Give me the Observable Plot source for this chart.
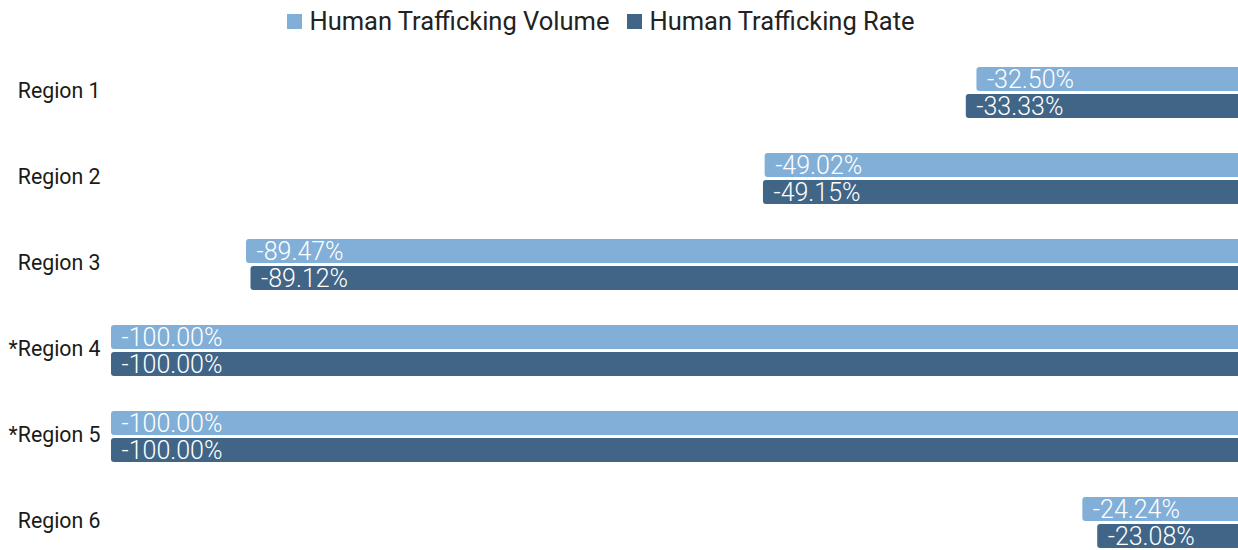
<!DOCTYPE html>
<html>
<head>
<meta charset="utf-8">
<script src="https://cdn.jsdelivr.net/npm/d3@7"></script>
<script src="https://cdn.jsdelivr.net/npm/@observablehq/plot@0.6"></script>
<style>
  html, body { margin: 0; padding: 0; background: #fff; overflow: hidden; }
  body { width: 1238px; height: 550px; font-family: Roboto, "Noto Sans", sans-serif; }
  #legend { height: 42px; display: flex; justify-content: center; align-items: center; gap: 18px; font-size: 25.5px; color: #222; padding-right: 36px; box-sizing: border-box; }
  #legend .item { display: flex; align-items: center; gap: 7px; }
  #legend .sw { width: 15px; height: 15px; display: inline-block; }
  #chart svg { display: block; }
</style>
</head>
<body>
<div id="legend"></div>
<div id="chart"></div>
<script>
const regions = ["Region 1", "Region 2", "Region 3", "*Region 4", "*Region 5", "Region 6"];
const seriesNames = ["Human Trafficking Volume", "Human Trafficking Rate"];
const volumeChange = [-32.50, -49.02, -89.47, -100.00, -100.00, -24.24];
const rateChange = [-33.33, -49.15, -89.12, -100.00, -100.00, -23.08];
const colors = ["#82afd7", "#416587"];

const data = [];
regions.forEach((r, i) => {
  data.push({region: r, series: seriesNames[0], value: volumeChange[i]});
  data.push({region: r, series: seriesNames[1], value: rateChange[i]});
});

const legend = document.getElementById("legend");
seriesNames.forEach((s, i) => {
  const it = document.createElement("span");
  it.className = "item";
  it.innerHTML = `<span class="sw" style="background:${colors[i]}"></span><span>${s}</span>`;
  legend.appendChild(it);
});

const chart = Plot.plot({
  width: 1238,
  height: 509,
  marginLeft: 111,
  marginRight: 0,
  marginTop: 22,
  marginBottom: 0,
  style: {fontFamily: "Roboto, sans-serif"},
  x: {domain: [-100, -12.1], axis: null},
  fy: {domain: regions, paddingInner: 0.3894, paddingOuter: 0, label: null, axis: null},
  y: {domain: seriesNames, paddingInner: 0.107, paddingOuter: 0, axis: null},
  color: {domain: seriesNames, range: colors},
  facet: {data, y: "region"},
  marks: [
    Plot.axisFy({anchor: "left", label: null, tickSize: 0, tickPadding: 11, fontSize: 21.3, fill: "#1a1a1a", dy: -2}),
    Plot.barX(data, {x: "value", y: "series", fill: "series", rx: 3, clip: true}),
    Plot.text(data, {x: "value", y: "series", text: d => d.value.toFixed(2) + "%", textAnchor: "start", dx: 10, fill: "#fff", fontSize: 25, fontWeight: 300})
  ]
});
document.getElementById("chart").appendChild(chart);
</script>
</body>
</html>
